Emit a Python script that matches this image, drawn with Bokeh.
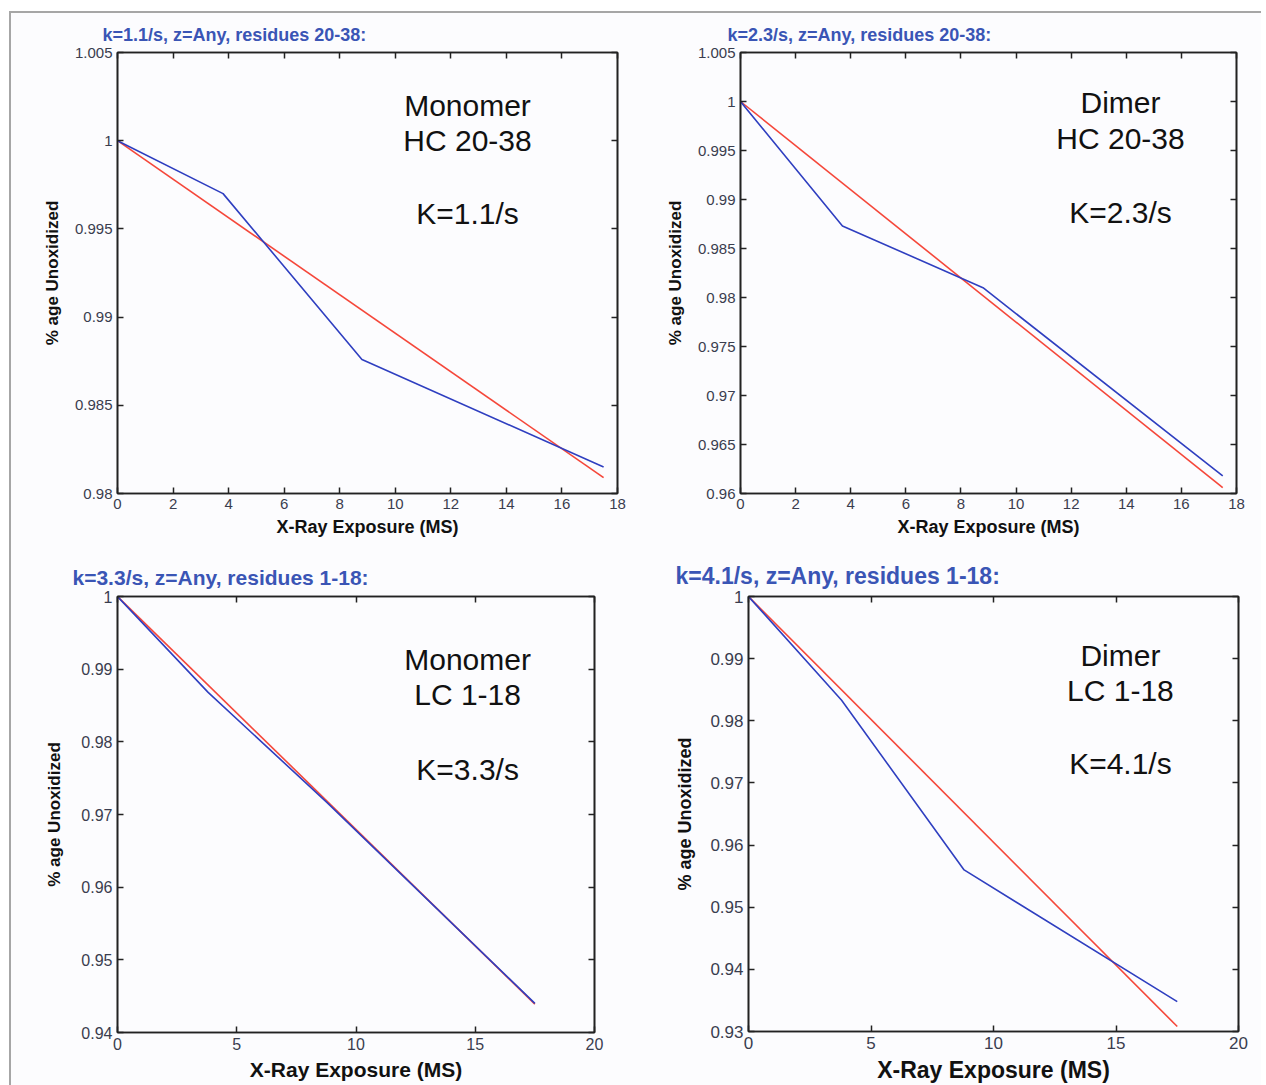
from bokeh.plotting import figure
from bokeh.layouts import column, row
from bokeh.models import (FixedTicker, LinearAxis, Range1d, Label, CustomJSTickFormatter,
                          Title, CustomLabelingPolicy)
from bokeh.embed import file_html
from bokeh.resources import INLINE

# ---------------- data ----------------
titles = ["k=1.1/s, z=Any, residues 20-38:",
          "k=2.3/s, z=Any, residues 20-38:",
          "k=3.3/s, z=Any, residues 1-18:",
          "k=4.1/s, z=Any, residues 1-18:"]

p1_x = [0, 3.8, 8.8, 17.5]
p1_blue = [1.0, 0.9970, 0.9876, 0.9815]
p1_red_x = [0, 17.5]
p1_red = [1.0, 0.9809]

p2_x = [0, 3.7, 8.8, 17.5]
p2_blue = [1.0, 0.9873, 0.9810, 0.9618]
p2_red_x = [0, 17.5]
p2_red = [1.0, 0.9606]

p3_x = [0, 3.8, 8.8, 17.5]
p3_blue = [1.0, 0.9868, 0.9716, 0.9440]
p3_red_x = [0, 17.5]
p3_red = [1.0, 0.9439]

p4_x = [0, 3.8, 8.8, 17.5]
p4_blue = [1.0, 0.9833, 0.9560, 0.9348]
p4_red_x = [0, 17.5]
p4_red = [1.0, 0.9308]

xticks_a = [0, 2, 4, 6, 8, 10, 12, 14, 16, 18]
xticks_b = [0, 5, 10, 15, 20]
yticks_1 = [0.98, 0.985, 0.99, 0.995, 1.0, 1.005]
yticks_2 = [0.96, 0.965, 0.97, 0.975, 0.98, 0.985, 0.99, 0.995, 1.0, 1.005]
yticks_3 = [0.94, 0.95, 0.96, 0.97, 0.98, 0.99, 1.0]
yticks_4 = [0.93, 0.94, 0.95, 0.96, 0.97, 0.98, 0.99, 1.0]

notes_1 = ["Monomer", "HC 20-38", "K=1.1/s"]
notes_2 = ["Dimer", "HC 20-38", "K=2.3/s"]
notes_3 = ["Monomer", "LC 1-18", "K=3.3/s"]
notes_4 = ["Dimer", "LC 1-18", "K=4.1/s"]

# ---------------- style ----------------
BG = "#fcfcfe"
BLUE = "#2f3fc0"
RED = "#f5473a"
TITLE_C = "#3a55b5"
TICK_C = "#3a3d4e"
FONT = "Liberation Sans"
DARK = "#222222"

fmt_code = "return String(parseFloat(tick.toFixed(4)));"
no_labels = "for (const i of indices) { if (i < 0) yield i }"


def style_ticks(ax):
    ax.major_tick_in = 6
    ax.major_tick_out = 0
    ax.minor_tick_line_color = None
    ax.axis_line_color = DARK
    ax.axis_line_width = 1.6
    ax.major_tick_line_color = DARK
    ax.major_tick_line_width = 1.5


def make_panel(title, xs, blue, rx, red, xr, yr, xt, yt, notes, note_pos,
               frame_w, frame_h, bl, br, bt, bb,
               title_size, tick_size, ylab_size, xlab_size, title_off, ylab_standoff):
    p = figure(frame_width=frame_w, frame_height=frame_h,
               x_range=Range1d(*xr), y_range=Range1d(*yr),
               output_backend="svg", toolbar_location=None,
               min_border_left=bl, min_border_right=br,
               min_border_top=bt, min_border_bottom=bb,
               background_fill_color=BG, border_fill_color=BG)
    p.grid.visible = False
    p.outline_line_color = DARK
    p.outline_line_width = 1.6

    fmt = CustomJSTickFormatter(code=fmt_code)
    for ax, ticks in ((p.xaxis[0], xt), (p.yaxis[0], yt)):
        ax.ticker = FixedTicker(ticks=ticks)
        ax.formatter = fmt
        style_ticks(ax)
        ax.major_label_text_font = FONT
        ax.major_label_text_font_size = f"{tick_size}px"
        ax.major_label_text_color = TICK_C
        ax.major_label_standoff = 5
        ax.axis_label_text_font = FONT
        ax.axis_label_text_font_style = "bold"
        ax.axis_label_text_color = "#111111"
    p.xaxis[0].axis_label = "X-Ray Exposure (MS)"
    p.xaxis[0].axis_label_text_font_size = f"{xlab_size}px"
    p.xaxis[0].axis_label_standoff = 5
    p.yaxis[0].axis_label = "% age Unoxidized"
    p.yaxis[0].axis_label_text_font_size = f"{ylab_size}px"
    p.yaxis[0].axis_label_standoff = ylab_standoff

    for loc, ticks in (("above", xt), ("right", yt)):
        ax = LinearAxis(ticker=FixedTicker(ticks=ticks),
                        major_label_policy=CustomLabelingPolicy(code=no_labels))
        ax.major_label_text_font_size = "2px"
        ax.major_label_standoff = 0
        style_ticks(ax)
        p.add_layout(ax, loc)

    p.add_layout(Title(text=title, text_font=FONT, text_font_size=f"{title_size}px",
                       text_font_style="bold", text_color=TITLE_C, align="left",
                       offset=title_off, standoff=7), "above")

    p.line(rx, red, line_color=RED, line_width=1.6)
    p.line(xs, blue, line_color=BLUE, line_width=1.6)

    for txt, (nx, ny) in zip(notes, note_pos):
        p.add_layout(Label(x=nx, y=ny, text=txt, text_align="center",
                           text_baseline="middle", text_font=FONT,
                           text_font_size="30px", text_color="#111111"))
    return p


p1 = make_panel(titles[0], p1_x, p1_blue, p1_red_x, p1_red, (0, 18), (0.98, 1.005),
                xticks_a, yticks_1, notes_1, [(12.6, 1.0020), (12.6, 1.0), (12.6, 0.99587)],
                500, 441, 106, 14, 39, 55, 18, 15, 17, 18, -15, 10)
p2 = make_panel(titles[1], p2_x, p2_blue, p2_red_x, p2_red, (0, 18), (0.96, 1.005),
                xticks_a, yticks_2, notes_2, [(13.79, 0.9999), (13.79, 0.99622), (13.79, 0.98867)],
                496, 441, 109, 25, 39, 55, 18, 15, 17, 18, -13, 10)
p3 = make_panel(titles[2], p3_x, p3_blue, p3_red_x, p3_red, (0, 20), (0.94, 1.0),
                xticks_b, yticks_3, notes_3, [(14.68, 0.99133), (14.68, 0.98651), (14.68, 0.97619)],
                477, 436, 106, 37, 46, 48, 21, 16, 17, 21, -45, 14)
p4 = make_panel(titles[3], p4_x, p4_blue, p4_red_x, p4_red, (0, 20), (0.93, 1.0),
                xticks_b, yticks_4, notes_4, [(15.18, 0.99051), (15.18, 0.98487), (15.18, 0.97313)],
                490, 435, 117, 23, 48, 47, 23, 17, 18, 23, -73, 12)

layout = column(row(p1, p2), row(p3, p4),
                styles={"border-left": "2px solid #a6a6a6", "border-top": "2px solid #a6a6a6",
                        "margin-left": "9px", "margin-top": "11px",
                        "background-color": BG})

open("out.html", "w").write(file_html(layout, INLINE))
